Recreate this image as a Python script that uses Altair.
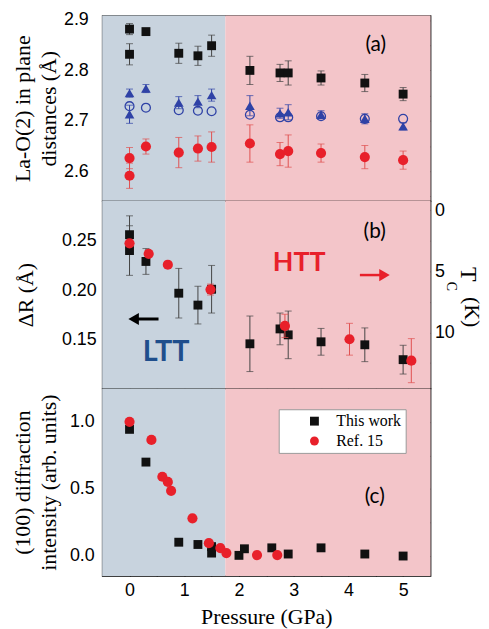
import altair as alt
import pandas as pd

# ---------------- data ----------------
phase_edges = [-0.5, 1.75, 5.5]
phase_colors = ["#c8d3de", "#f3c5c9"]

# panel (a): La-O(2) in-plane distances
a_P = [0, 0, 0.3, 0.9, 1.25, 1.5, 2.2, 2.75, 2.9, 3.5, 4.3, 5.0]
a_sq = [2.882, 2.832, 2.877, 2.834, 2.829, 2.849, 2.800, 2.795, 2.795, 2.785, 2.775, 2.753]
a_sq_err = [0.011, 0.021, 0.005, 0.020, 0.019, 0.021, 0.028, 0.017, 0.024, 0.014, 0.017, 0.013]
a_tri = [2.755, 2.713, 2.764, 2.736, 2.738, 2.751, 2.730, 2.715, 2.717, 2.712, 2.704, 2.689]
a_tri_err = [0.008, 0.018, 0.008, 0.012, 0.012, 0.012, 0.020, 0.010, 0.015, 0.008, 0.010, 0.007]
a_oc_P = [0, 0.3, 0.9, 1.25, 1.5, 2.2, 2.75, 2.9, 3.5, 4.3, 5.0]
a_oc = [2.729, 2.726, 2.721, 2.720, 2.719, 2.712, 2.707, 2.707, 2.709, 2.704, 2.704]
a_rc = [2.626, 2.591, 2.649, 2.637, 2.645, 2.648, 2.655, 2.634, 2.640, 2.636, 2.628, 2.622]
a_rc_err = [0.021, 0.025, 0.015, 0.030, 0.025, 0.030, 0.037, 0.023, 0.032, 0.018, 0.023, 0.018]

# panel (b): Delta R (left) and Tc (right)
b_sq = [0.256, 0.240, 0.229, 0.197, 0.185, 0.201, 0.146, 0.161, 0.155, 0.148, 0.145, 0.130]
b_sq_err = [0.019, 0.025, 0.013, 0.025, 0.019, 0.024, 0.028, 0.016, 0.024, 0.0135, 0.017, 0.0145]
b_tc_P = [0, 0.35, 0.7, 1.48, 2.84, 4.02, 5.15]
b_tc = [2.71, 3.57, 4.46, 6.49, 9.46, 10.55, 12.3]
b_tc_err = [0, 0, 0, 0.45, 0.95, 1.3, 1.8]

# panel (c): (100) diffraction intensity
c_sq_P = [0, 0.3, 0.9, 1.25, 1.5, 1.5, 2.0, 2.1, 2.6, 2.9, 3.5, 4.3, 5.0]
c_sq = [0.944, 0.700, 0.103, 0.086, 0.070, 0.022, 0.005, 0.054, 0.061, 0.015, 0.061, 0.015, 0.0]
c_rc_P = [0, 0.4, 0.6, 0.7, 0.76, 1.15, 1.45, 1.66, 1.77, 2.33, 2.7]
c_rc = [1.0, 0.865, 0.591, 0.552, 0.486, 0.281, 0.096, 0.059, 0.022, 0.007, 0.007]
series_names = ["This work", "Ref. 15"]

x_major = [0, 1, 2, 3, 4, 5]
x_minor = [0.5, 1.5, 2.5, 3.5, 4.5]

# ---------------- style ----------------
W = 331
HA, HB, HC = 187, 189, 189
X_DOM = [-0.5, 5.5]
A_DOM = [2.541, 2.909]
B_DOM = [0.101, 0.290]
TC_DOM = [-0.75, 14.57]
C_DOM = [-0.148, 1.249]
MAJ, MIN = 6, 3.5
BLACK = "#111111"
RED = "#e8202a"
BLUE = "#2f42a6"
SANS = "Liberation Sans"
SERIF = "Liberation Serif"
LBL = 18


def xenc(field, axis=None, title=None):
    return alt.X(field, type="quantitative",
                 scale=alt.Scale(domain=X_DOM, nice=False, zero=False),
                 axis=axis, title=title)


def yenc(field, dom, rev=False, axis=None, title=None):
    return alt.Y(field, type="quantitative",
                 scale=alt.Scale(domain=dom, nice=False, zero=False, reverse=rev),
                 axis=axis, title=title)


def series(P, V, E, dom, color, ecolor, shape, size, filled=True, rev=False):
    layers = []
    if E is not None:
        de = pd.DataFrame({"P": P, "lo": [v - e for v, e in zip(V, E)],
                           "hi": [v + e for v, e in zip(V, E)], "e": E})
        de = de[de["e"] > 0]
        layers.append(alt.Chart(de).mark_rule(color=ecolor, strokeWidth=1).encode(
            x=xenc("P"), y=yenc("lo", dom, rev), y2="hi:Q"))
        for f in ("lo", "hi"):
            layers.append(alt.Chart(de).mark_tick(orient="horizontal", size=7, thickness=1,
                                                  color=ecolor).encode(
                x=xenc("P"), y=yenc(f, dom, rev)))
    df = pd.DataFrame({"P": P, "v": V})
    if filled:
        mk = alt.Chart(df).mark_point(shape=shape, size=size, filled=True, color=color, opacity=1)
    else:
        mk = alt.Chart(df).mark_point(shape=shape, size=size, filled=False, color=color,
                                      strokeWidth=1.3, opacity=1)
    layers.append(mk.encode(x=xenc("P"), y=yenc("v", dom, rev)))
    return layers


def bg_layers(dom):
    out = []
    for i in range(2):
        d = pd.DataFrame({"x0": [phase_edges[i]], "x1": [phase_edges[i + 1]]})
        out.append(alt.Chart(d).mark_rect(color=phase_colors[i], opacity=1).encode(
            x=xenc("x0"), x2="x1:Q"))
    return out


def xax(orient, vals, size, labels=False, **kw):
    return alt.Axis(orient=orient, values=vals, tickSize=size, offset=-size, domain=False,
                    grid=False, labels=labels, ticks=True, tickColor="black", tickWidth=1,
                    labelFont=SANS, labelFontSize=LBL, labelColor="black", labelPadding=6,
                    format="d", **kw)


def yax(orient, vals, size, labels=False, fmt=".1f", pad=8, **kw):
    return alt.Axis(orient=orient, values=vals, tickSize=size, offset=-size, domain=False,
                    grid=False, labels=labels, ticks=True, tickColor="black", tickWidth=1,
                    labelFont=SANS, labelFontSize=LBL, labelColor="black", labelPadding=pad,
                    format=fmt, **kw)


def ytitle_kw(h, tx):
    return dict(titleX=tx, titleY=h / 2, titleAngle=270, titleAlign="center",
                titleBaseline="middle", titleFont=SERIF, titleFontSize=22,
                titleFontWeight="normal", titleColor="black", titleLineHeight=26)


def axis_layer(dom, rev, xa, ya, xtitle=None, ytitle=None):
    d = pd.DataFrame({"P": [2.5], "v": [(dom[0] + dom[1]) / 2]})
    return alt.Chart(d).mark_point(opacity=0, size=1).encode(
        x=xenc("P", xa, xtitle), y=yenc("v", dom, rev, ya, ytitle))


def label(txt, x, y, dom, size=20, color="black", weight="normal", rev=False):
    d = pd.DataFrame({"P": [x], "v": [y], "t": [txt]})
    return alt.Chart(d).mark_text(font="Lato", fontSize=size, color=color, fontWeight=weight,
                                  align="center", baseline="middle").encode(
        x=xenc("P"), y=yenc("v", dom, rev), text="t:N")


# ---------------- panel (a) ----------------
a_ymaj = [2.6, 2.7, 2.8, 2.9]
a_ymin = [2.55, 2.65, 2.75, 2.85]
pa = (bg_layers(A_DOM)
      + [axis_layer(A_DOM, False, xax("bottom", x_major, MAJ),
                    yax("left", a_ymaj, MAJ, labels=True, pad=14, **ytitle_kw(HA, -86)),
                    ytitle=["La-O(2) in plane", "distances (Å)"]),
         axis_layer(A_DOM, False, xax("bottom", x_minor, MIN), yax("left", a_ymin, MIN)),
         axis_layer(A_DOM, False, xax("top", x_major, MAJ), yax("right", a_ymaj, MAJ)),
         axis_layer(A_DOM, False, xax("top", x_minor, MIN), yax("right", a_ymin, MIN))]
      + series(a_P, a_sq, a_sq_err, A_DOM, BLACK, "#444444", "square", 80)
      + series(a_oc_P, a_oc, None, A_DOM, BLUE, BLUE, "circle", 80, filled=False)
      + series(a_P, a_tri, a_tri_err, A_DOM, BLUE, BLUE, "triangle-up", 95)
      + series(a_P, a_rc, a_rc_err, A_DOM, RED, "#e05050", "circle", 105)
      + [label("(a)", 4.5, 2.851, A_DOM, size=21)])
panel_a = alt.layer(*pa).resolve_scale(x="independent", y="independent").resolve_axis(
    x="independent", y="independent").properties(width=W, height=HA)

# ---------------- panel (b) ----------------
b_ymaj = [0.15, 0.20, 0.25]
b_ymin = [0.125, 0.175, 0.225, 0.275]
tc_maj = [0, 5, 10]
tc_min = [2.5, 7.5, 12.5]

arrow_black = pd.DataFrame({"tail": [0.53], "head": [0.075], "tip": [-0.04], "v": [0.171]})
arrow_red = pd.DataFrame({"tail": [4.21], "head": [4.66], "tip": [4.77], "v": [0.2153]})


def arrow(d, color, shape, width):
    shaft = alt.Chart(d).mark_rule(color=color, strokeWidth=width).encode(
        x=xenc("tail"), x2="head:Q", y=yenc("v", B_DOM))
    head = alt.Chart(d).mark_point(shape=shape, filled=True, size=150, color=color,
                                   opacity=1).encode(x=xenc("head"), y=yenc("v", B_DOM))
    return [shaft, head]


def pix_text(txt, x, y, size):
    d = pd.DataFrame({"t": [txt]})
    return alt.Chart(d).mark_text(font=SERIF, fontSize=size, angle=90, color="black",
                                  align="center", baseline="middle").encode(
        x=alt.value(x), y=alt.value(y), text="t:N")


pb = (bg_layers(B_DOM)
      + [axis_layer(B_DOM, False, xax("bottom", x_major, MAJ),
                    yax("left", b_ymaj, MAJ, labels=True, fmt=".2f", pad=6, **ytitle_kw(HB, -83)),
                    ytitle="ΔR (Å)"),
         axis_layer(B_DOM, False, xax("bottom", x_minor, MIN), yax("left", b_ymin, MIN)),
         axis_layer(TC_DOM, True, xax("top", x_major, MAJ),
                    yax("right", tc_maj, MAJ, labels=True, fmt="d", pad=4)),
         axis_layer(TC_DOM, True, xax("top", x_minor, MIN), yax("right", tc_min, MIN))]
      + series(a_P, b_sq, b_sq_err, B_DOM, BLACK, "#444444", "square", 80)
      + series(b_tc_P, b_tc, b_tc_err, TC_DOM, RED, "#e05050", "circle", 105, rev=True)
      + arrow(arrow_black, "black", "triangle-left", 3)
      + arrow(arrow_red, RED, "triangle-right", 2.5)
      + [label("(b)", 4.48, 0.259, B_DOM, size=21),
         label("HTT", 3.10, 0.2276, B_DOM, size=27, color=RED, weight="bold"),
         label("LTT", 0.67, 0.138, B_DOM, size=29, color="#1f4e8c", weight="bold"),
         pix_text("T", 369, 74, 24), pix_text("C", 352, 86, 14), pix_text("(K)", 373, 112, 22)])
panel_b = alt.layer(*pb).resolve_scale(x="independent", y="independent").resolve_axis(
    x="independent", y="independent").properties(width=W, height=HB)

# ---------------- panel (c) ----------------
c_ymaj = [0.0, 0.5, 1.0]
c_ymin = [0.25, 0.75]

leg = alt.Legend(title=None, orient="none", legendX=178, legendY=21, fillColor="white",
                 strokeColor="#999999", padding=4, labelFont=SERIF, labelFontSize=16,
                 labelColor="black", symbolSize=80, symbolStrokeWidth=0, symbolOffset=24,
                 labelOffset=14, rowPadding=4)
color_sc = alt.Scale(domain=series_names, range=[BLACK, RED])
shape_sc = alt.Scale(domain=series_names, range=["square", "circle"])


def c_points(P, V, name, size):
    d = pd.DataFrame({"P": P, "v": V, "src": name})
    return alt.Chart(d).mark_point(filled=True, size=size, opacity=1).encode(
        x=xenc("P"), y=yenc("v", C_DOM),
        color=alt.Color("src:N", scale=color_sc, legend=leg),
        shape=alt.Shape("src:N", scale=shape_sc, legend=leg))


pc = (bg_layers(C_DOM)
      + [axis_layer(C_DOM, False,
                    xax("bottom", x_major, MAJ, labels=True, titleFont=SERIF, titleFontSize=22,
                        titleFontWeight="normal", titleColor="black", titlePadding=7),
                    yax("left", c_ymaj, MAJ, labels=True, pad=8, **ytitle_kw(HC, -86)),
                    xtitle="Pressure (GPa)",
                    ytitle=["(100) diffraction", "intensity (arb. units)"]),
         axis_layer(C_DOM, False, xax("bottom", x_minor, MIN), yax("left", c_ymin, MIN)),
         axis_layer(C_DOM, False, xax("top", x_major, MAJ), yax("right", c_ymaj, MAJ)),
         axis_layer(C_DOM, False, xax("top", x_minor, MIN), yax("right", c_ymin, MIN)),
         c_points(c_sq_P, c_sq, series_names[0], 80),
         c_points(c_rc_P, c_rc, series_names[1], 105),
         label("(c)", 4.48, 0.436, C_DOM, size=21)])
panel_c = alt.layer(*pc).resolve_scale(x="independent", y="independent").resolve_axis(
    x="independent", y="independent").properties(width=W, height=HC)

chart = alt.vconcat(panel_a, panel_b, panel_c, spacing=0, bounds="flush").resolve_legend(
    color="independent", shape="independent").properties(
    padding={"left": 11, "top": 7, "right": 5, "bottom": 5}, background="white"
).configure_view(stroke="black", strokeWidth=1.2)

chart.save("out.html", embed_options={"renderer": "svg", "actions": False})
